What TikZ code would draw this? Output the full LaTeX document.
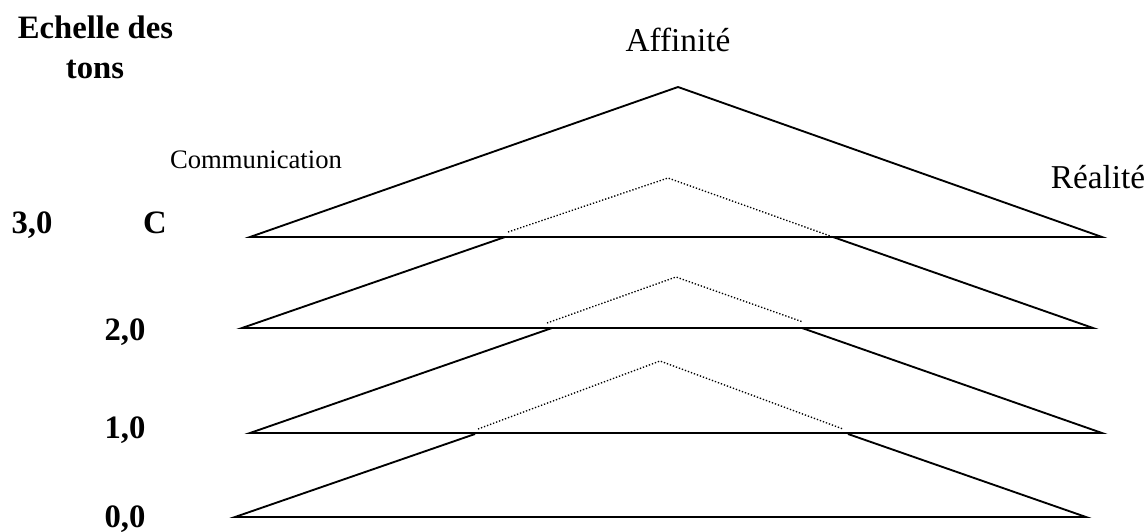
\documentclass[tikz,border=0pt]{standalone}
\usepackage{fontspec}
\setmainfont{Liberation Serif}
\begin{document}
\begin{tikzpicture}[x=0.75pt,y=-0.75pt,
  solidline/.style={line width=1.4pt,line join=miter},
  dotline/.style={line width=1pt,dash pattern=on 1pt off 1.4pt},
  lbl/.style={inner sep=0pt,anchor=base,font=\fontsize{25}{29}\selectfont},
  blbl/.style={lbl,font=\fontsize{24.5}{28}\selectfont\bfseries},
  slbl/.style={inner sep=0pt,anchor=base,font=\fontsize{20}{24}\selectfont}]
\useasboundingbox (0,0) rectangle (1147,532);
% labels
\node[blbl] (ech) at (95.5,38) {Echelle des};
\node[blbl] (tons) at (95,78) {tons};
\node[lbl] (aff) at (678,51) {Affinité};
\node[slbl] (comm) at (256,168) {Communication};
\node[lbl] (real) at (1098,188) {Réalité};
\node[blbl] (l3) at (32,233) {3,0};
\node[blbl] (lc) at (155,233) {C};
\node[blbl] (l2) at (125,340) {2,0};
\node[blbl] (l1) at (125,438) {1,0};
\node[blbl] (l0) at (125,527) {0,0};
% triangle 1 (top)
\draw[solidline] (250,237) -- (678,87) -- (1102,237) -- cycle;
% triangle 2
\draw[solidline] (505,237) -- (242,328) -- (1093,328) -- (833,237);
\draw[dotline] (508,232) -- (668,178) -- (833,237);
% triangle 3
\draw[solidline] (552,328) -- (250,433) -- (1102,433) -- (802,328);
\draw[dotline] (547,323) -- (676,277) -- (803,322);
% triangle 4 (bottom)
\draw[solidline] (475,434) -- (235,517) -- (1086,517) -- (848,434);
\draw[dotline] (478,429) -- (660,361) -- (843,429);
\end{tikzpicture}
\end{document}
